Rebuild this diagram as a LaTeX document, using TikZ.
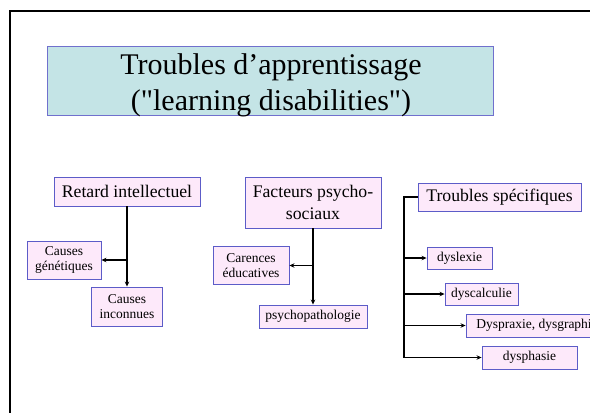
\documentclass[tikz,border=0pt]{standalone}
\usepackage{fontspec}
\setmainfont{Liberation Serif}[Ligatures=TeXOff]
\usetikzlibrary{arrows.meta}
\definecolor{titlefill}{RGB}{196,228,230}
\definecolor{titleedge}{RGB}{112,112,205}
\definecolor{boxfill}{RGB}{253,233,250}
\definecolor{boxedge}{RGB}{92,92,200}
\tikzset{
  big/.style={draw=boxedge, fill=boxfill, line width=0.9pt, inner sep=0pt, align=center,
    font=\fontsize{17.7}{21.5}\selectfont},
  small/.style={draw=boxedge, fill=boxfill, line width=0.9pt, inner sep=0pt, align=center,
    font=\fontsize{13.5}{15}\selectfont},
  link/.style={line width=1.6pt, black, -{Stealth[length=5pt,width=4.5pt]}},
  plain/.style={line width=1.6pt, black}
}
\begin{document}
\begin{tikzpicture}[x=1pt, y=-1pt]
\useasboundingbox (0,0) rectangle (590,413);
\fill[white] (0,0) rectangle (590,413);
% slide frame
\draw[line width=2.5pt] (10,413) -- (10,11) -- (600,11);

% title banner
\draw[fill=titlefill, draw=titleedge, line width=1pt] (47,46) rectangle (493,115);
\node[align=center, font=\fontsize{30}{36}\selectfont, inner sep=0pt] (title) at (271,85)
  {Troubles d’apprentissage\\("learning disabilities")};

% first column
\node[big, minimum width=146pt, minimum height=29pt] (ret) at (127,191.5) {Retard intellectuel};
\node[small, minimum width=74pt, minimum height=38pt] (gen) at (64,260) {Causes\\génétiques};
\node[small, minimum width=71pt, minimum height=39pt] (inc) at (127,306.5) {Causes\\inconnues};
\draw[link] (ret.south) -- (ret.south |- inc.north);
\draw[link] (ret.south |- gen.east) -- (gen.east);

% second column
\node[big, minimum width=136pt, minimum height=51pt] (fac) at (313,202.5) {Facteurs psycho-\\sociaux};
\node[small, minimum width=76pt, minimum height=38pt] (car) at (251,265.5) {Carences\\éducatives};
\node[small, minimum width=108pt, minimum height=23pt] (psy) at (313,316.5) {psychopathologie};
\draw[link] (fac.south) -- (fac.south |- psy.north);
\draw[link] (fac.south |- car.east) -- (car.east);

% third column
\node[big, minimum width=163pt, minimum height=28pt] (ts) at (499.5,197) {Troubles spécifiques};
\node[small, minimum width=65pt, minimum height=22pt] (dlx) at (459.5,258) {dyslexie};
\node[small, minimum width=73pt, minimum height=22pt] (dcl) at (481.5,294) {dyscalculie};
\node[small, minimum width=142pt, minimum height=23pt] (dpr) at (537,325.5) {Dyspraxie, dysgraphie};
\node[small, minimum width=95pt, minimum height=23pt] (dph) at (529.5,357.5) {dysphasie};
\coordinate (trunk) at (404,197);
\draw[link] (ts.west) -- (trunk) |- (dlx.west);
\draw[link] (trunk |- dlx.west) |- (dcl.west);
\draw[link] (trunk |- dlx.west) |- (dpr.west);
\draw[link] (trunk |- dlx.west) |- (dph.west);
\end{tikzpicture}
\end{document}
